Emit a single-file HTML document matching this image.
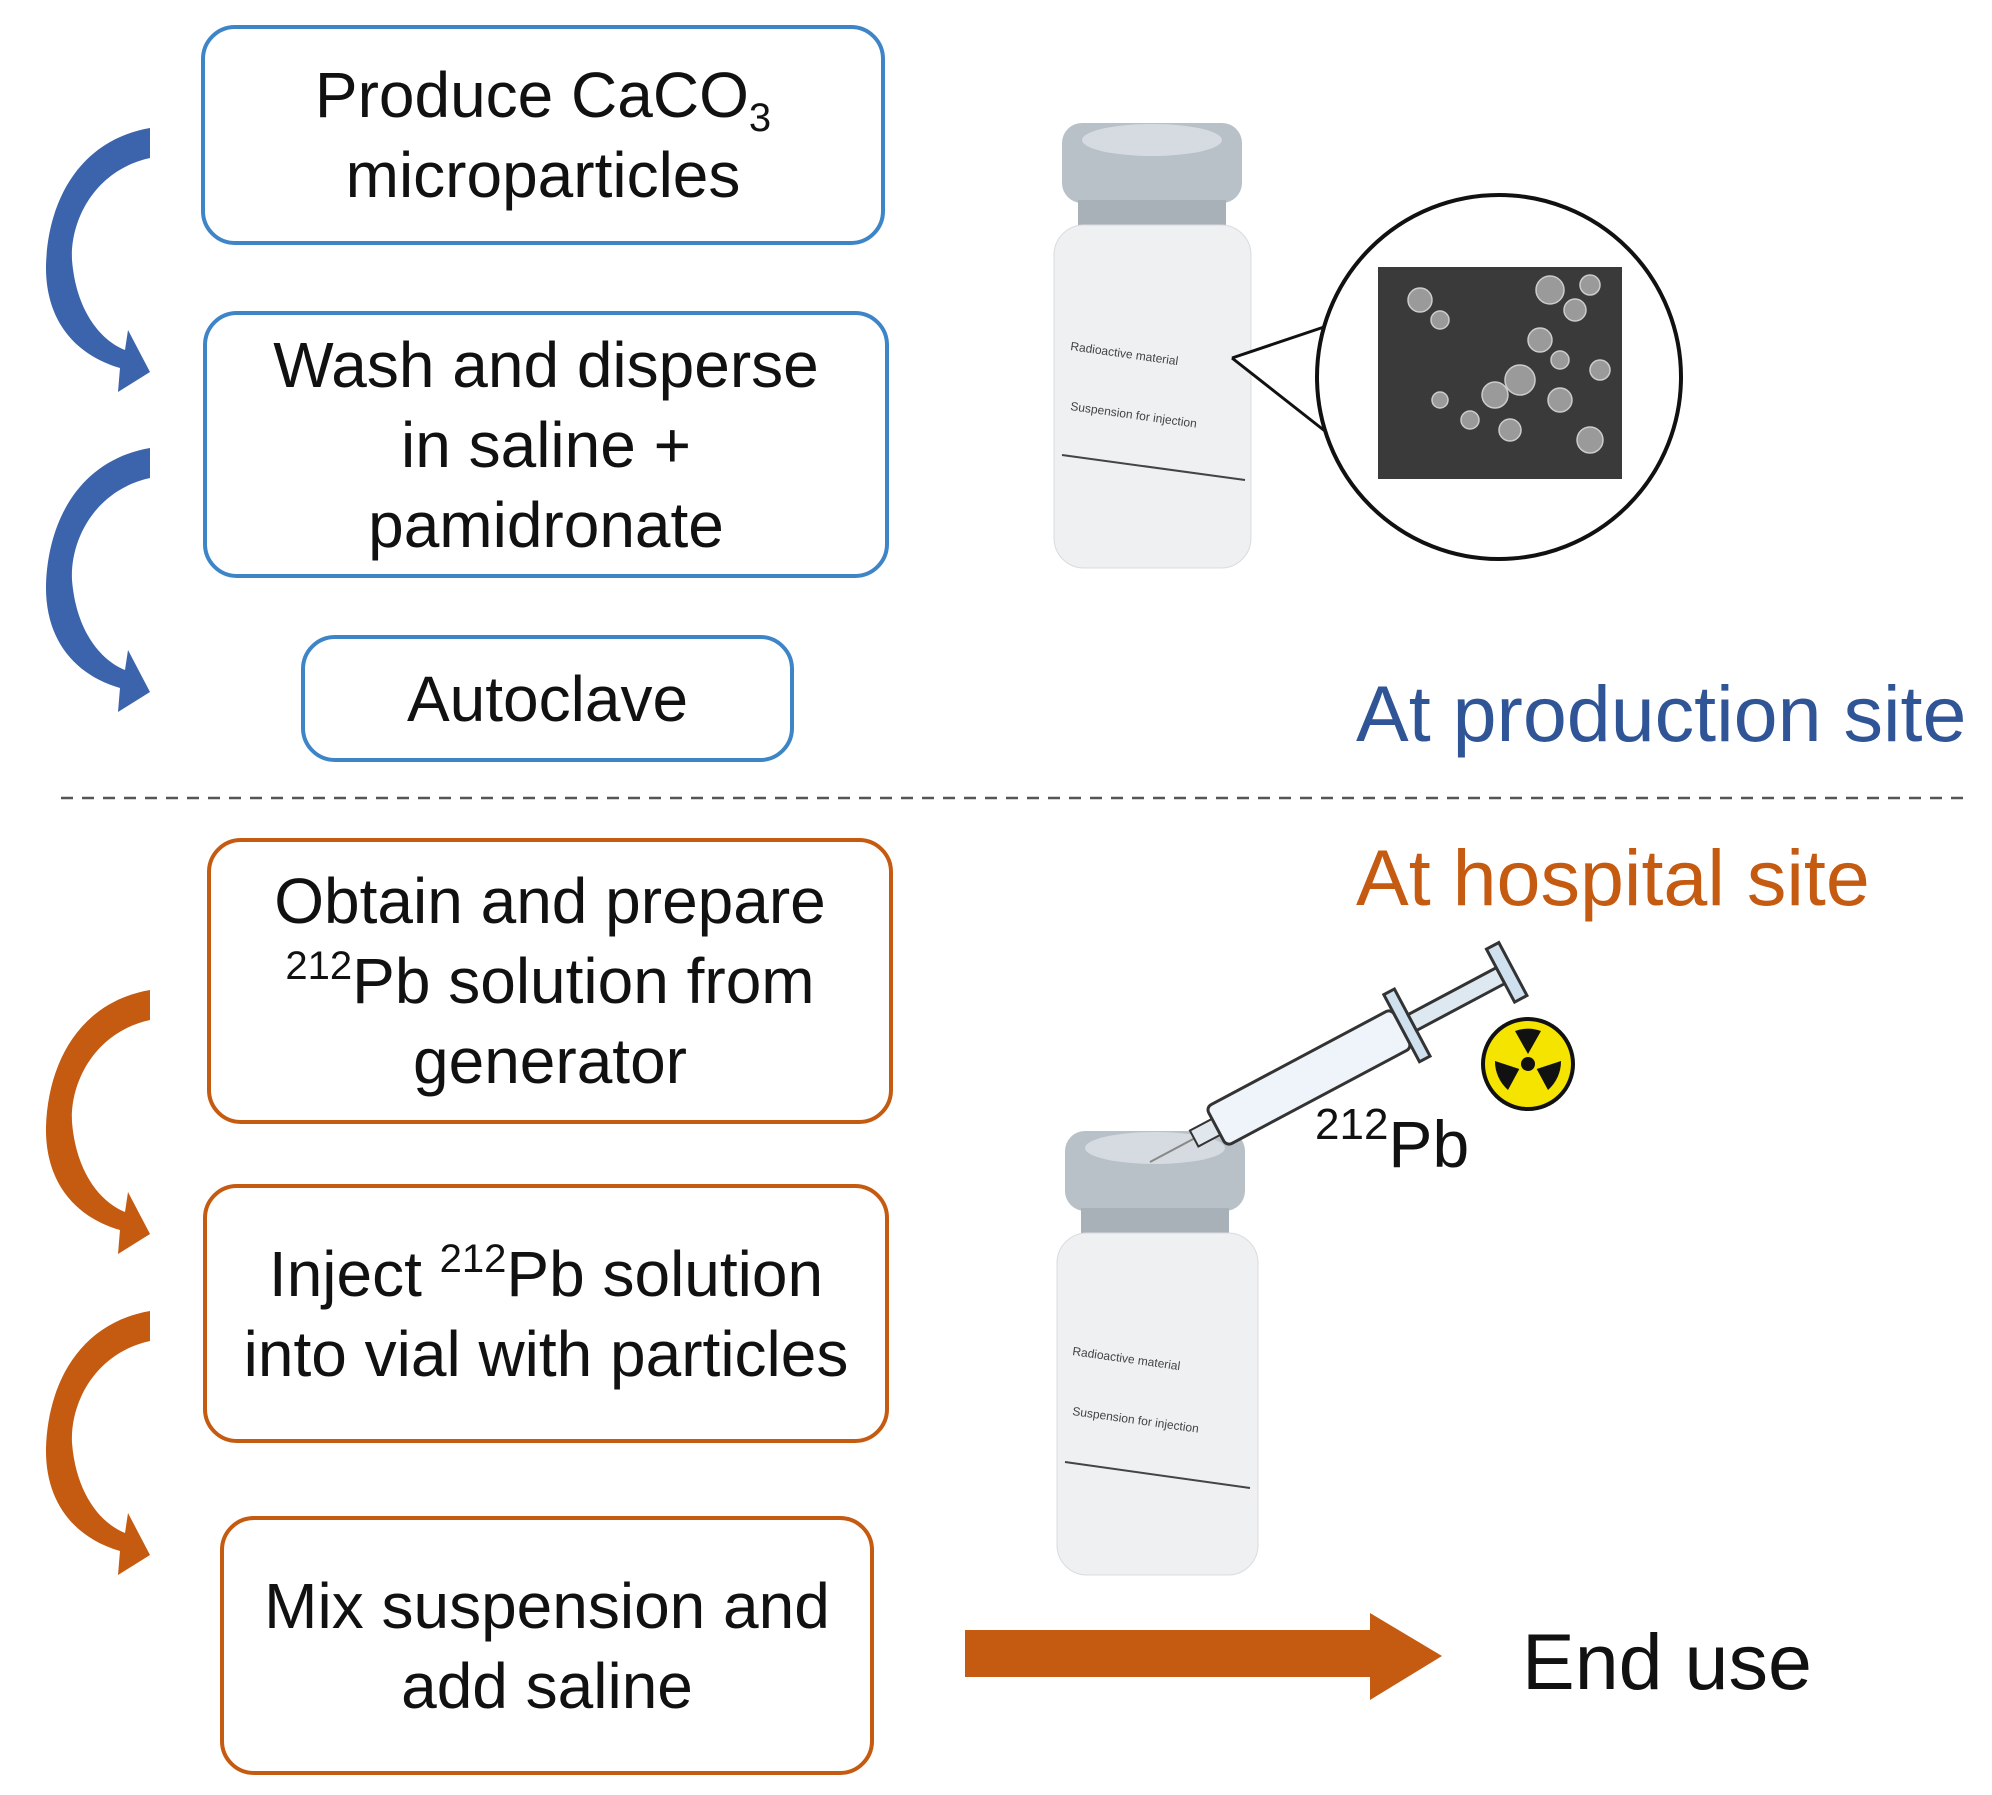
<!DOCTYPE html>
<html><head><meta charset="utf-8"><style>
html,body{margin:0;padding:0;background:#fff;}
body{width:1992px;height:1795px;position:relative;overflow:hidden;font-family:"Liberation Sans",Arial,sans-serif;}
.b{position:absolute;box-sizing:border-box;border-radius:34px;display:flex;align-items:center;justify-content:center;text-align:center;font-size:64px;line-height:80px;color:#111;background:#fff;}
.b>div{display:block;white-space:nowrap;}
.bl{border:4px solid #3d85c6;}
.or{border:4px solid #c55a11;}
sub{font-size:40px;vertical-align:-14px;line-height:0}
sup{font-size:40px;vertical-align:24px;line-height:0}
.t{position:absolute;white-space:nowrap;}
</style></head><body>
<div class="b bl" style="left:201px;top:25px;width:684px;height:220px;"><div>Produce CaCO<sub>3</sub><br>microparticles</div></div>
<div class="b bl" style="left:203px;top:311px;width:686px;height:267px;"><div>Wash and disperse<br>in saline +<br>pamidronate</div></div>
<div class="b bl" style="left:301px;top:635px;width:493px;height:127px;"><div>Autoclave</div></div>
<div class="b or" style="left:207px;top:838px;width:686px;height:286px;"><div>Obtain and prepare<br><sup>212</sup>Pb solution from<br>generator</div></div>
<div class="b or" style="left:203px;top:1184px;width:686px;height:259px;"><div>Inject <sup>212</sup>Pb solution<br>into vial with particles</div></div>
<div class="b or" style="left:220px;top:1516px;width:654px;height:259px;"><div>Mix suspension and<br>add saline</div></div>
<div class="t" style="left:1356px;top:668px;font-size:79px;color:#2f5597;">At production site</div>
<div class="t" style="left:1356px;top:832px;font-size:79px;color:#c55a11;">At hospital site</div>
<div class="t" style="left:1522px;top:1616px;font-size:79px;color:#111;">End use</div>
<div class="t" style="left:1315px;top:1100px;font-size:66px;color:#111;"><span style="font-size:44px;vertical-align:28px">212</span>Pb</div>
<svg width="1992" height="1795" style="position:absolute;left:0;top:0">
<line x1="61" y1="798" x2="1963" y2="798" stroke="#555" stroke-width="2.5" stroke-dasharray="12,9"/>
<defs>
<g id="arr"><path d="M150,128 L150,158 C95,170 70,220 72,260 C76,310 100,340 125,350 L128,330 L150,372 L118,392 L120,368 C75,355 45,320 46,265 C48,200 80,140 150,128 Z"/></g>
</defs>
<use href="#arr" fill="#3b64ad"/>
<use href="#arr" fill="#3b64ad" transform="translate(0,320)"/>
<use href="#arr" fill="#c55a11" transform="translate(0,862)"/>
<use href="#arr" fill="#c55a11" transform="translate(0,1183)"/>
<path d="M965,1630 L1370,1630 L1370,1613 L1442,1656 L1370,1700 L1370,1677 L965,1677 Z" fill="#c55a11"/>
<g>
<rect x="1062" y="123" width="180" height="80" rx="20" fill="#b8c0c8"/>
<ellipse cx="1152" cy="140" rx="70" ry="16" fill="#d5dbe0"/>
<rect x="1078" y="200" width="148" height="30" fill="#a8b0b8"/>
<rect x="1054" y="225" width="197" height="343" rx="30" fill="#eef0f2" stroke="#d8dcdf"/>
<line x1="1062" y1="455" x2="1245" y2="480" stroke="#444" stroke-width="2"/>
<text x="1070" y="350" font-size="12" fill="#444" transform="rotate(8 1070 350)">Radioactive material</text>
<text x="1070" y="410" font-size="12" fill="#444" transform="rotate(8 1070 410)">Suspension for injection</text>
</g>
<path d="M1232,358 L1335,320 L1335,440 Z" fill="#fff"/>
<path d="M1232,358 L1330,325 M1232,358 L1330,435" stroke="#111" stroke-width="3"/>
<circle cx="1499" cy="377" r="182" fill="#fff" stroke="#111" stroke-width="4"/>
<rect x="1378" y="267" width="244" height="212" fill="#3a3a3a"/>
<g fill="#9a9a9a" stroke="#ccc" stroke-width="1.5">
<circle cx="1420" cy="300" r="12"/><circle cx="1440" cy="320" r="9"/><circle cx="1550" cy="290" r="14"/><circle cx="1575" cy="310" r="11"/><circle cx="1590" cy="285" r="10"/><circle cx="1540" cy="340" r="12"/><circle cx="1520" cy="380" r="15"/><circle cx="1495" cy="395" r="13"/><circle cx="1560" cy="400" r="12"/><circle cx="1600" cy="370" r="10"/><circle cx="1470" cy="420" r="9"/><circle cx="1510" cy="430" r="11"/><circle cx="1440" cy="400" r="8"/><circle cx="1590" cy="440" r="13"/><circle cx="1560" cy="360" r="9"/>
</g>
<g>
<rect x="1065" y="1131" width="180" height="80" rx="20" fill="#b8c0c8"/>
<ellipse cx="1155" cy="1148" rx="70" ry="16" fill="#d5dbe0"/>
<rect x="1081" y="1208" width="148" height="30" fill="#a8b0b8"/>
<rect x="1057" y="1233" width="201" height="342" rx="30" fill="#eef0f2" stroke="#d8dcdf"/>
<line x1="1065" y1="1462" x2="1250" y2="1488" stroke="#444" stroke-width="2"/>
<text x="1072" y="1355" font-size="12" fill="#444" transform="rotate(8 1072 1355)">Radioactive material</text>
<text x="1072" y="1415" font-size="12" fill="#444" transform="rotate(8 1072 1415)">Suspension for injection</text>
</g>
<g transform="translate(1150,1162) rotate(-28)">
<line x1="0" y1="0" x2="50" y2="0" stroke="#888" stroke-width="2"/>
<rect x="50" y="-9" width="25" height="18" fill="#e0e8ee" stroke="#333" stroke-width="2"/>
<rect x="75" y="-22" width="210" height="44" rx="6" fill="#eef4fa" stroke="#333" stroke-width="3"/>
<rect x="285" y="-38" width="12" height="76" fill="#cfe0ee" stroke="#333" stroke-width="3"/>
<rect x="297" y="-9" width="100" height="18" fill="#dde8f0" stroke="#333" stroke-width="3"/>
<rect x="397" y="-30" width="14" height="60" fill="#cfe0ee" stroke="#333" stroke-width="3"/>
</g>
<g transform="translate(1528,1064)">
<circle r="45" fill="#f5e400" stroke="#111" stroke-width="4"/>
<circle r="7" fill="#111"/>
<path d="M0,-10 L-13,-33 A38,38 0 0 1 13,-33 Z M8.7,5 L33,-3 A38,38 0 0 1 20,26 Z M-8.7,5 L-20,26 A38,38 0 0 1 -33,-3 Z" fill="#111"/>
</g>
</svg>
</body></html>
